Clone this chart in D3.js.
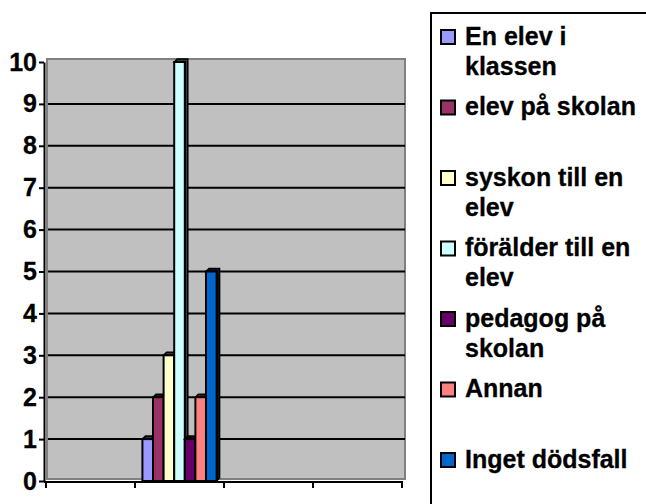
<!DOCTYPE html>
<meta charset="utf-8">
<script src="https://d3js.org/d3.v7.min.js"></script>
<style>
  body { margin: 0; background: #fff; }
</style>
<div id="chart"></div>
<script>

// categories along the x axis (no labels are printed in the original)
const categories = ["k1", "k2", "k3", "k4"];
const categoryLabels = ["", "", "", ""];

// one array per series, one value per category
const enElevIKlassen   = [null, 1, null, null];
const elevPaSkolan     = [null, 2, null, null];
const syskonTillEnElev = [null, 3, null, null];
const foralderTillElev = [null, 10, null, null];
const pedagogPaSkolan  = [null, 1, null, null];
const annan            = [null, 2, null, null];
const ingetDodsfall    = [null, 5, null, null];

const seriesNames = ["En elev i klassen", "elev på skolan", "syskon till en elev",
  "förälder till en elev", "pedagog på skolan", "Annan", "Inget dödsfall"];
const seriesColors = ["#9999FF", "#993366", "#FFFFCC", "#CCFFFF", "#660066", "#FF8080", "#0066CC"];
const yTicks = [0, 1, 2, 3, 4, 5, 6, 7, 8, 9, 10];

const seriesValues = [enElevIKlassen, elevPaSkolan, syskonTillEnElev, foralderTillElev,
  pedagogPaSkolan, annan, ingetDodsfall];
const series = seriesNames.map((name, i) => ({ name, color: seriesColors[i], values: seriesValues[i] }));

const W = 646, H = 504;
const FONT = "Liberation Sans, Arial, sans-serif";
const svg = d3.select("#chart").append("svg")
  .attr("width", W).attr("height", H);

// scales
const x = d3.scaleBand().domain(categories).range([46, 402]);
const xs = d3.scaleBand().domain(seriesNames).range([0, x.bandwidth()])
  .paddingInner(0).paddingOuter(0.7);
const y = d3.scaleLinear().domain([0, 10]).range([481, 62]);
const depth = 3;

// back wall
svg.append("rect")
  .attr("x", 47).attr("y", y(10) - 3)
  .attr("width", 358).attr("height", y(0) - y(10) + 1)
  .attr("fill", "#C0C0C0")
  .attr("stroke", "#808080").attr("stroke-width", 2);

// gridlines
svg.append("g").selectAll("line")
  .data(yTicks.filter(t => t > 0 && t < 10))
  .join("line")
    .attr("x1", 48).attr("x2", 405)
    .attr("y1", d => y(d)).attr("y2", d => y(d))
    .attr("stroke", "#000").attr("stroke-width", 2);

// bars with a small 3D side and top
const bars = [];
series.forEach(s => s.values.forEach((v, j) => {
  if (v != null) bars.push({ name: s.name, color: s.color, cat: categories[j], value: v });
}));

const bar = svg.append("g").selectAll("g")
  .data(bars)
  .join("g");

bar.append("polygon")
  .attr("points", d => {
    const x0 = x(d.cat) + xs(d.name), x1 = x0 + xs.bandwidth();
    const yt = y(d.value), yb = y(0);
    return [[x0, yt], [x0 + depth, yt - depth], [x1 + depth, yt - depth],
      [x1 + depth, yb - depth], [x1, yb], [x1, yt]].join(" ");
  })
  .attr("fill", d => d3.color(d.color).darker(4))
  .attr("stroke", "#000").attr("stroke-width", 1.5);

bar.append("rect")
  .attr("x", d => x(d.cat) + xs(d.name))
  .attr("y", d => y(d.value))
  .attr("width", xs.bandwidth())
  .attr("height", d => y(0) - y(d.value))
  .attr("fill", d => d.color)
  .attr("stroke", "#000").attr("stroke-width", 2);

// y axis
const yAxis = svg.append("g")
  .attr("transform", "translate(44,0)")
  .call(d3.axisLeft(y).tickValues(yTicks).tickSize(5).tickPadding(2).tickSizeOuter(0));
yAxis.select(".domain").attr("stroke-width", 2);
yAxis.selectAll(".tick line").attr("stroke-width", 2);
yAxis.selectAll(".tick text")
  .attr("font-family", FONT)
  .attr("font-size", 25).attr("font-weight", "bold")
  .attr("fill", "#000").attr("stroke", "#000").attr("stroke-width", 0.3);

// x axis: ticks between categories
const xAxis = svg.append("g");
xAxis.append("line")
  .attr("x1", 44).attr("x2", x.range()[1] + 1)
  .attr("y1", y(0) + 1).attr("y2", y(0) + 1)
  .attr("stroke", "#000").attr("stroke-width", 2);
xAxis.selectAll(".xt")
  .data(categories.map(c => x(c)).concat([x.range()[1]]))
  .join("line")
    .attr("class", "xt")
    .attr("x1", d => d).attr("x2", d => d)
    .attr("y1", y(0)).attr("y2", y(0) + 7)
    .attr("stroke", "#000").attr("stroke-width", 2);
xAxis.selectAll(".xl")
  .data(categories)
  .join("text")
    .attr("class", "xl")
    .attr("x", d => x(d) + x.bandwidth() / 2)
    .attr("y", y(0) + 30)
    .attr("text-anchor", "middle")
    .attr("font-family", FONT)
    .attr("font-size", 25).attr("font-weight", "bold")
    .text((d, i) => categoryLabels[i]);

// legend
const legend = svg.append("g");
legend.append("rect")
  .attr("x", 431).attr("y", 13)
  .attr("width", 400).attr("height", 600)
  .attr("fill", "#fff")
  .attr("stroke", "#000").attr("stroke-width", 2);

const item = legend.selectAll(".item")
  .data(series)
  .join("g")
    .attr("class", "item")
    .attr("transform", (d, i) => `translate(0,${37 + i * 70.5})`);

item.append("rect")
  .attr("x", 441).attr("y", -7)
  .attr("width", 14).attr("height", 14)
  .attr("fill", d => d.color)
  .attr("stroke", "#000").attr("stroke-width", 2);

item.append("text")
  .attr("x", 465)
  .attr("font-family", FONT)
  .attr("font-size", 25)
  .attr("font-weight", "bold")
  .attr("stroke", "#000").attr("stroke-width", 0.3)
  .each(function(d) {
    const t = d3.select(this);
    const words = d.name.split(" ");
    let line = [], lineNo = 0;
    let ts = t.append("tspan").attr("x", 465).attr("y", 0).attr("dy", "0.3em");
    words.forEach(w => {
      line.push(w);
      ts.text(line.join(" "));
      if (ts.node().getComputedTextLength() > 176 && line.length > 1) {
        line.pop();
        ts.text(line.join(" "));
        line = [w];
        lineNo++;
        ts = t.append("tspan").attr("x", 465).attr("y", lineNo * 30).attr("dy", "0.3em").text(w);
      }
    });
  });

</script>
